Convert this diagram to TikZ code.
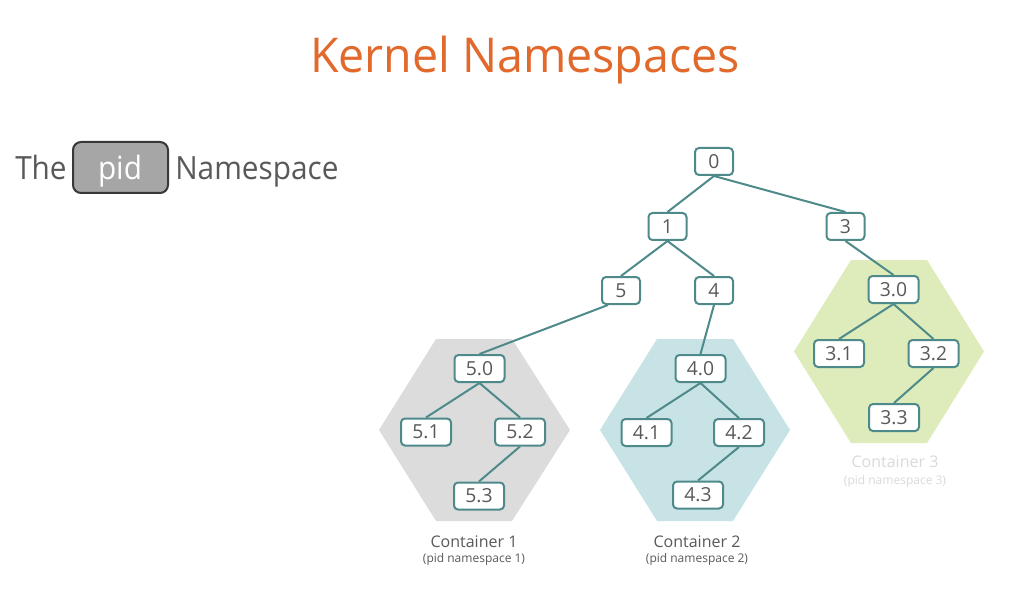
\documentclass[tikz,border=0pt]{standalone}
\usepackage{fontspec}
\setmainfont{Open Sans}
\usetikzlibrary{calc}
\definecolor{titleorange}{HTML}{E2692C}
\definecolor{textgray}{HTML}{595959}
\definecolor{teal}{HTML}{4F8A8B}
\definecolor{hexgray}{HTML}{DCDCDC}
\definecolor{hexblue}{HTML}{C8E3E6}
\definecolor{hexgreen}{HTML}{DDECBA}
\definecolor{fadedgray}{HTML}{DADADA}
\definecolor{pidfill}{HTML}{A6A6A6}
\definecolor{piddraw}{HTML}{383838}
\begin{document}
\begin{tikzpicture}[x=0.75pt,y=-0.75pt,
  pbox/.style={draw=teal, line width=1.5pt, rounded corners=3pt, fill=white,
    minimum width=28.5pt, minimum height=20.25pt, inner sep=0pt,
    text=textgray, font=\fontsize{14.5}{16}\selectfont},
  pboxw/.style={pbox, minimum width=37.5pt},
  link/.style={draw=teal, line width=1.5pt},
  clabel/.style={anchor=base, text=textgray, font=\fontsize{12}{14}\selectfont},
  nlabel/.style={anchor=base, text=textgray, font=\fontsize{9}{11}\selectfont},
]
\useasboundingbox[fill=white] (0,0) rectangle (1032,606);

% title
\node[anchor=base, text=titleorange, font=\fontsize{36}{40}\selectfont, inner sep=0pt] (title) at (525,73) {\scalebox{0.97}[1]{Kernel Namespaces}};

% subtitle
\node[anchor=base west, text=textgray, font=\fontsize{24}{28}\selectfont, inner sep=0pt] (the) at (15,180) {\scalebox{0.93}[1]{The}};
\node[draw=piddraw, line width=1.5pt, fill=pidfill, rounded corners=6pt,
  minimum width=71.25pt, minimum height=38.25pt, inner sep=0pt] (pidbox) at (120.5,167.5) {};
\node[anchor=base, text=white, font=\fontsize{24}{28}\selectfont, inner sep=0pt] (pid) at (120,180) {\scalebox{0.93}[1]{pid}};
\node[anchor=base west, text=textgray, font=\fontsize{24}{28}\selectfont, inner sep=0pt] (ns) at (175,180) {\scalebox{0.93}[1]{Namespace}};

% hexagons
\fill[hexgray] (436,339) -- (512,339) -- (570,430) -- (512,521) -- (436,521) -- (379,430) -- cycle;
\fill[hexblue] (657,339) -- (733,339) -- (790,430) -- (733,521) -- (657,521) -- (600,430) -- cycle;
\fill[hexgreen] (851,260) -- (927,260) -- (984,351.5) -- (927,443) -- (851,443) -- (794,351.5) -- cycle;

% top tree
\node[pbox] (n0) at (714,161.5) {0};
\node[pbox] (n1) at (667.5,226.5) {1};
\node[pbox] (n3) at (845.5,226.5) {3};
\node[pbox] (n5) at (621,290.5) {5};
\node[pbox] (n4) at (714,290.5) {4};

% container 1
\node[pboxw] (n50) at (479.5,368.5) {5.0};
\node[pboxw] (n51) at (426,432) {5.1};
\node[pboxw] (n52) at (520,432) {5.2};
\node[pboxw] (n53) at (479,496) {5.3};

% container 2
\node[pboxw] (n40) at (700.5,368.5) {4.0};
\node[pboxw] (n41) at (646.5,432.5) {4.1};
\node[pboxw] (n42) at (739,432.5) {4.2};
\node[pboxw] (n43) at (698,495) {4.3};

% container 3
\node[pboxw] (n30) at (893.5,289.5) {3.0};
\node[pboxw] (n31) at (839,353.5) {3.1};
\node[pboxw] (n32) at (933.5,353.5) {3.2};
\node[pboxw] (n33) at (894,417.5) {3.3};

% links
\draw[link] (n0.south) -- (n1.north);
\draw[link] (n0.south) -- (n3.north);
\draw[link] (n1.south) -- (n5.north);
\draw[link] (n1.south) -- (n4.north);
\draw[link] ([xshift=-9.75pt]n5.south) -- (n50.north);
\draw[link] (n4.south) -- (n40.north);
\draw[link] (n3.south) -- (n30.north);
\draw[link] (n50.south) -- (n51.north);
\draw[link] (n50.south) -- (n52.north);
\draw[link] (n52.south) -- (n53.north);
\draw[link] (n40.south) -- (n41.north);
\draw[link] (n40.south) -- (n42.north);
\draw[link] (n42.south) -- (n43.north);
\draw[link] (n30.south) -- (n31.north);
\draw[link] (n30.south) -- (n32.north);
\draw[link] (n32.south) -- (n33.north);

% labels
\node[clabel] (c1) at (474,547) {Container 1};
\node[nlabel] (c1n) at (474,562) {(pid namespace 1)};
\node[clabel] (c2) at (697,547) {Container 2};
\node[nlabel] (c2n) at (697,562) {(pid namespace 2)};
\node[clabel, text=fadedgray] (c3) at (895,467) {Container 3};
\node[nlabel, text=fadedgray] (c3n) at (895,484) {(pid namespace 3)};
\end{tikzpicture}
\end{document}
